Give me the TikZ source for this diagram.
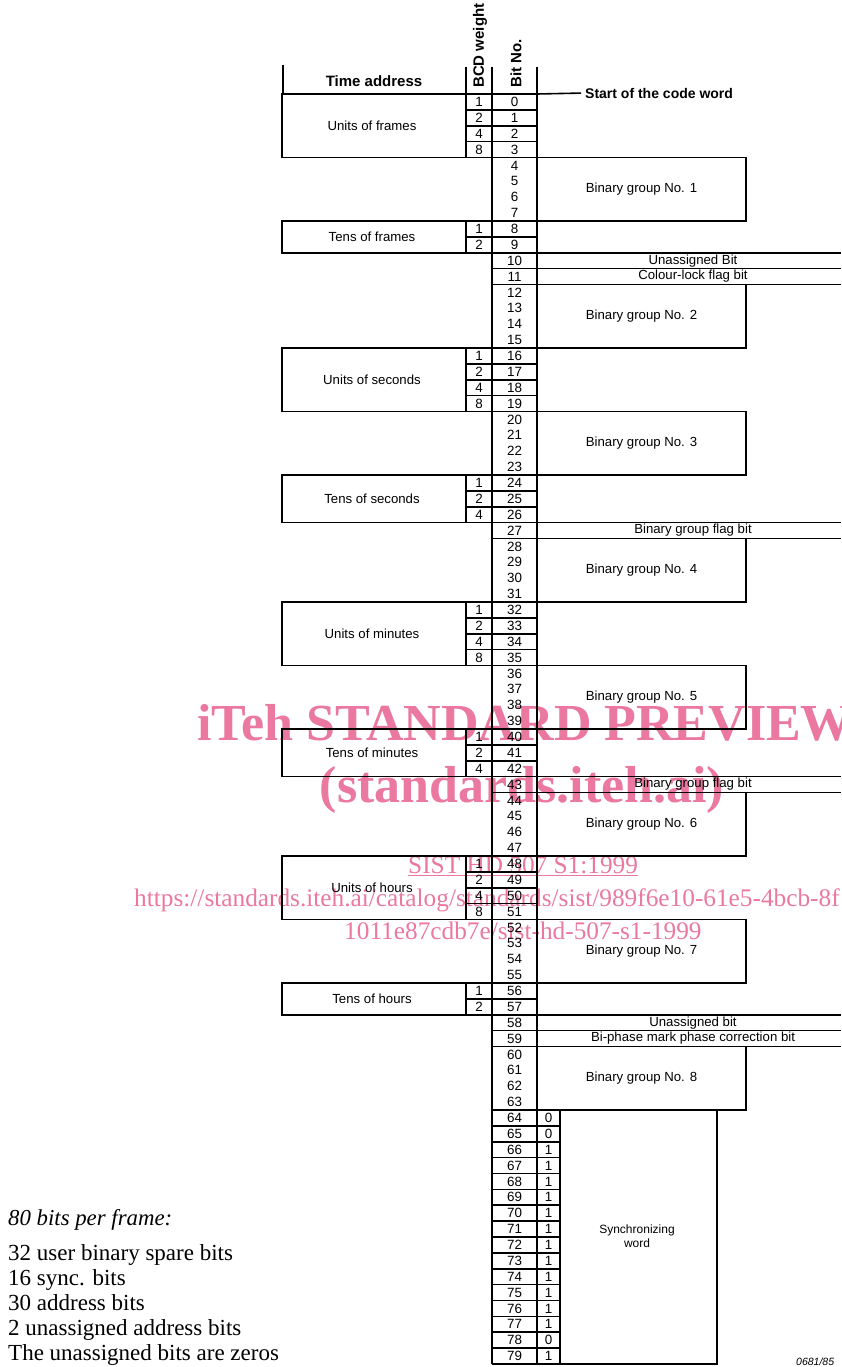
\documentclass[tikz,border=0pt]{standalone}
\usepackage{fontspec}
\newfontfamily\hv{Liberation Sans}
\newfontfamily\tm{Liberation Serif}
\definecolor{wmpink}{RGB}{234,120,160}
\def\rp{15.875}
\def\ry#1{94+(#1)*\rp}
\newcommand{\tgroup}[5]{%
  \draw[ln] (282,{\ry{#2}}) rectangle (537,{\ry{#2+#3}});
  \draw[ln] (466,{\ry{#2}}) -- (466,{\ry{#2+#3}});
  \node[lbl] (#1) at (372,{\ry{#2+#3/2}}) {#4};
  \foreach \w [count=\i from 0] in {#5} {
    \node[num] (#1w\i) at (479,{\ry{#2+\i+0.5}}) {\w};
    \ifnum\i>0 \draw[ln] (466,{\ry{#2+\i}}) -- (537,{\ry{#2+\i}}); \fi
  }%
}
\newcommand{\bingroup}[3]{%
  \draw[ln] (537,{\ry{#2}}) rectangle (746,{\ry{#2+4}});
  \node[lbl] (#1) at (641.5,{\ry{#2+2}}) {Binary group No. #3};
}
\newcommand{\fullrow}[3]{%
  \draw[ln] (492,{\ry{#2}}) -- (841,{\ry{#2}});
  \draw[ln] (492,{\ry{#2+1}}) -- (841,{\ry{#2+1}});
  \node[lbl] (#1) at (693,{\ry{#2+0.5}}) {#3};
}
\begin{document}
\begin{tikzpicture}[x=1pt,y=-1pt,
  ln/.style={line width=1.6pt},
  lbl/.style={font=\hv\fontsize{13.2}{15}\selectfont, inner sep=0pt},
  num/.style={font=\hv\fontsize{13.4}{15}\selectfont, inner sep=0pt},
  hdr/.style={font=\hv\bfseries\fontsize{15}{17}\selectfont, inner sep=0pt},
  note/.style={font=\tm\fontsize{23}{25}\selectfont, anchor=base west, inner sep=0pt},
  wmbig/.style={text=wmpink, font=\tm\bfseries\fontsize{52}{54}\selectfont, inner sep=0pt},
  wmsmall/.style={text=wmpink, font=\tm\fontsize{25.3}{27}\selectfont, inner sep=0pt, anchor=base west}]
\useasboundingbox (0,0) rectangle (841,1367);
\clip (0,0) rectangle (841,1367);
% watermark (under the drawing)
\node[wmbig, anchor=base west] (wm1) at (197,740) {iTeh STANDARD PREVIEW};
\node[wmbig, anchor=base] (wm2) at (522,802) {(standards.iteh.ai)};
\node[wmsmall] (wm3) at (408,873) {\underline{SIST HD 507 S1:1999}};
\node[wmsmall] (wm4) at (134,906) {https://standards.iteh.ai/catalog/standards/sist/989f6e10-61e5-4bcb-8f};
\node[wmsmall] (wm5) at (344,939) {1011e87cdb7e/sist-hd-507-s1-1999};
% header
\draw[ln] (283,65) -- (283,94);
\draw[ln] (466,67) -- (466,94);
\draw[ln] (283,94) -- (537,94);
\node[hdr] (ta) at (374,81) {Time address};
\node[hdr, rotate=90, anchor=west] (bcd) at (480,88) {BCD weight};
\node[hdr, rotate=90, anchor=west] (bitno) at (516,88) {Bit No.};
\node[hdr, font=\hv\bfseries\fontsize{14}{16}\selectfont, anchor=west] (start) at (585,93) {Start of the code word};
\draw[ln, shorten >=4pt] (537,94) -- (start.west);
% continuous column lines
\draw[ln] (492,67) -- (492,{\ry{80}});
\draw[ln] (537,67) -- (537,{\ry{80}});
% time address groups
\tgroup{uf}{0}{4}{Units of frames}{1,2,4,8}
\tgroup{tf}{8}{2}{Tens of frames}{1,2}
\tgroup{us}{16}{4}{Units of seconds}{1,2,4,8}
\tgroup{ts}{24}{3}{Tens of seconds}{1,2,4}
\tgroup{um}{32}{4}{Units of minutes}{1,2,4,8}
\tgroup{tm}{40}{3}{Tens of minutes}{1,2,4}
\tgroup{uh}{48}{4}{Units of hours}{1,2,4,8}
\tgroup{th}{56}{2}{Tens of hours}{1,2}
% binary groups
\bingroup{bg1}{4}{1}
\bingroup{bg2}{12}{2}
\bingroup{bg3}{20}{3}
\bingroup{bg4}{28}{4}
\bingroup{bg5}{36}{5}
\bingroup{bg6}{44}{6}
\bingroup{bg7}{52}{7}
\bingroup{bg8}{60}{8}
% full-width single bits
\fullrow{r10}{10}{Unassigned Bit}
\fullrow{r11}{11}{Colour-lock flag bit}
\fullrow{r27}{27}{Binary group flag bit}
\fullrow{r43}{43}{Binary group flag bit}
\fullrow{r58}{58}{Unassigned bit}
\fullrow{r59}{59}{Bi-phase mark phase correction bit}
% bit numbers
\foreach \n in {0,...,79} {\node[num] (b\n) at (514.5,{\ry{\n+0.5}}) {\n};}
% synchronizing word
\foreach \v [count=\i from 64] in {0,0,1,1,1,1,1,1,1,1,1,1,1,1,0,1} {
  \node[num] (s\i) at (548.5,{\ry{\i+0.5}}) {\v};
  \draw[ln] (492,{\ry{\i}}) -- (560,{\ry{\i}});
}
\draw[ln] (492,{\ry{80}}) -- (560,{\ry{80}});
\draw[ln] (560,{\ry{64}}) rectangle (717,{\ry{80}});
\node[lbl, font=\hv\fontsize{12}{14}\selectfont, align=center] (sync) at (637,1236) {Synchronizing\\word};
% notes
\node[note, font=\tm\itshape\fontsize{22.8}{25}\selectfont] (n0) at (8,1225) {80 bits per frame:};
\node[note] (n1) at (8,1260) {32 user binary spare bits};
\node[note] (n2) at (8,1285) {16 sync. bits};
\node[note] (n3) at (8,1310) {30 address bits};
\node[note] (n4) at (8,1335) {2 unassigned address bits};
\node[note] (n5) at (8,1360) {The unassigned bits are zeros};
\node[font=\hv\itshape\fontsize{10.5}{12}\selectfont, anchor=base west, inner sep=0pt] (fig) at (796,1365) {0681/85};
\end{tikzpicture}
\end{document}
